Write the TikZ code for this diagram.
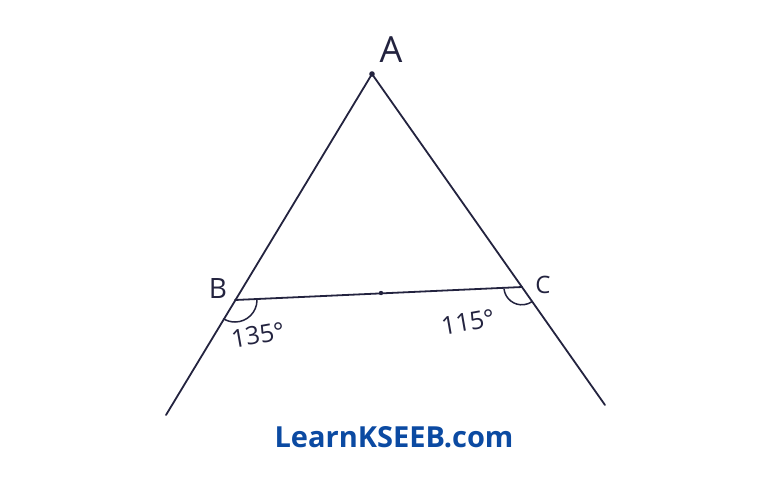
\documentclass[tikz,border=0pt]{standalone}
\usepackage{fontspec}
\setmainfont{Open Sans}
\usetikzlibrary{calc}
\definecolor{ink}{HTML}{23233F}
\definecolor{brand}{HTML}{0B4AA2}
\begin{document}
\begin{tikzpicture}[x=1pt,y=-1pt,
  edge/.style={draw=ink,line width=1.8pt,line cap=round},
  lab/.style={text=ink,font=\fontsize{28}{30}\selectfont,inner sep=0pt},
  anglab/.style={text=ink,font=\fontsize{25}{27}\selectfont,inner sep=0pt}]
\useasboundingbox (0,0) rectangle (768,485);
\coordinate (A) at (372,74);
\coordinate (B) at (235,300);
\coordinate (C) at (522,287);
\coordinate (BL) at (166,415);
\coordinate (CR) at (605,405);
\coordinate (M) at (381,293);
\draw[edge] (A) -- (BL);
\draw[edge] (A) -- (CR);
\draw[edge] (B) -- (C);
\fill[ink] (A) circle (2.8);
\fill[ink] (M) circle (2.2);
% angle arcs
\draw[edge,line width=1.5pt] ($(B)+(22,0)$) arc[start angle=0,end angle=121.1,radius=22];
\draw[edge,line width=1.5pt] ($(C)+(-18,2)$) arc[start angle=173,end angle=54.8,radius=18];
\node[lab,font=\fontsize{36}{38}\selectfont] (la) at (391,50) {A};
\node[lab] (lb) at (218,288) {B};
\node[lab,font=\fontsize{24}{26}\selectfont] (lc) at (543,285) {C};
\node[anglab,rotate=10] (a1) at (258,335) {135°};
\node[anglab,rotate=10] (a2) at (468,322) {115°};
\node[text=brand,font=\bfseries\fontsize{29}{31}\selectfont] (brandtxt) at (394,437) {LearnKSEEB.com};
\end{tikzpicture}
\end{document}
